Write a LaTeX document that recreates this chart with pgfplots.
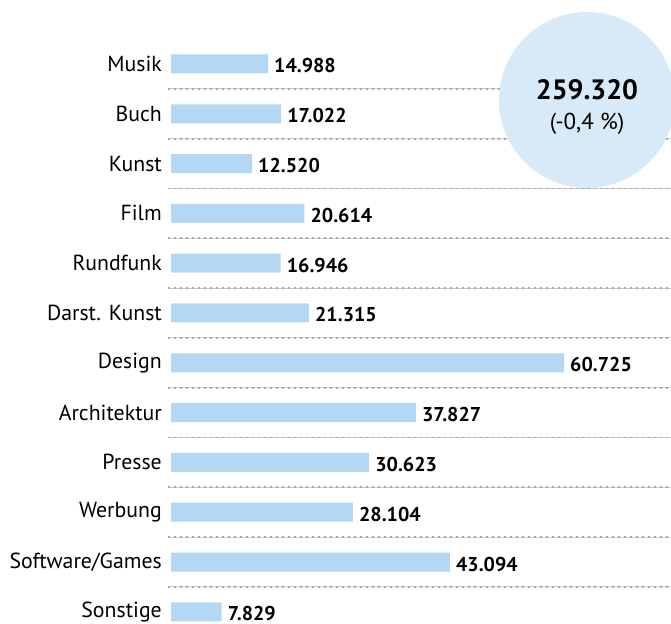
\documentclass[border=0pt]{standalone}
\usepackage{fontspec}
\setmainfont{PT Sans}
\usepackage{pgfplots}
\usepackage{pgfplotstable}
\pgfplotsset{compat=1.18}
\definecolor{barblue}{HTML}{B4D7F4}
\definecolor{circblue}{HTML}{D8E9F8}

\pgfplotstableread{
row value
0 14988
1 17022
2 12520
3 20614
4 16946
5 21315
6 60725
7 37827
8 30623
9 28104
10 43094
11 7829
}\branchen

\begin{document}
\begin{tikzpicture}
\begin{axis}[
    at={(0,0)}, anchor=south west,
    scale only axis,
    width=503pt, height=623pt,
    xmin=-464, xmax=77255,
    ymin=-1.285, ymax=11.225,
    y dir=reverse,
    xbar, bar width=19pt,
    axis line style={draw=none},
    xtick=\empty,
    ytick={0,...,11},
    yticklabels={Musik,Buch,Kunst,Film,Rundfunk,Darst. Kunst,Design,Architektur,Presse,Werbung,Software/Games,Sonstige},
    major tick length=0pt,
    yticklabel style={font=\fontsize{21.8}{24}\selectfont, inner sep=0pt, xshift=-6pt},
    extra y ticks={0.5,1.5,...,10.5},
    extra y tick labels={},
    extra y tick style={ymajorgrids=true, major tick length=0pt,
        grid style={gray!40, line width=0.9pt,
            postaction={draw, gray!70, line width=1.8pt, dash pattern=on 1.8pt off 4.2pt}}},
    /pgf/number format/1000 sep={.},
    /pgf/number format/assume math mode=true,
    nodes near coords,
    nodes near coords align=horizontal,
    every node near coord/.append style={font=\bfseries\fontsize{20}{24}\selectfont,
        text=black, inner sep=0pt, anchor=west, xshift=6pt, yshift=-2pt},
    clip=true,
]
\addplot[fill=barblue, draw=none] table[x=value, y=row] {\branchen};
\fill[circblue] (axis cs:64277,0.723) circle[radius=88pt];
\node[font=\bfseries\fontsize{28}{30}\selectfont] at (axis cs:64277,0.52) {259.320};
\node[font=\fontsize{23}{26}\selectfont] at (axis cs:64277,1.2) {(-0,4 \%)};
\end{axis}
\pgfresetboundingbox
\useasboundingbox (-168pt,0pt) rectangle (503pt,623pt);
\end{tikzpicture}
\end{document}
